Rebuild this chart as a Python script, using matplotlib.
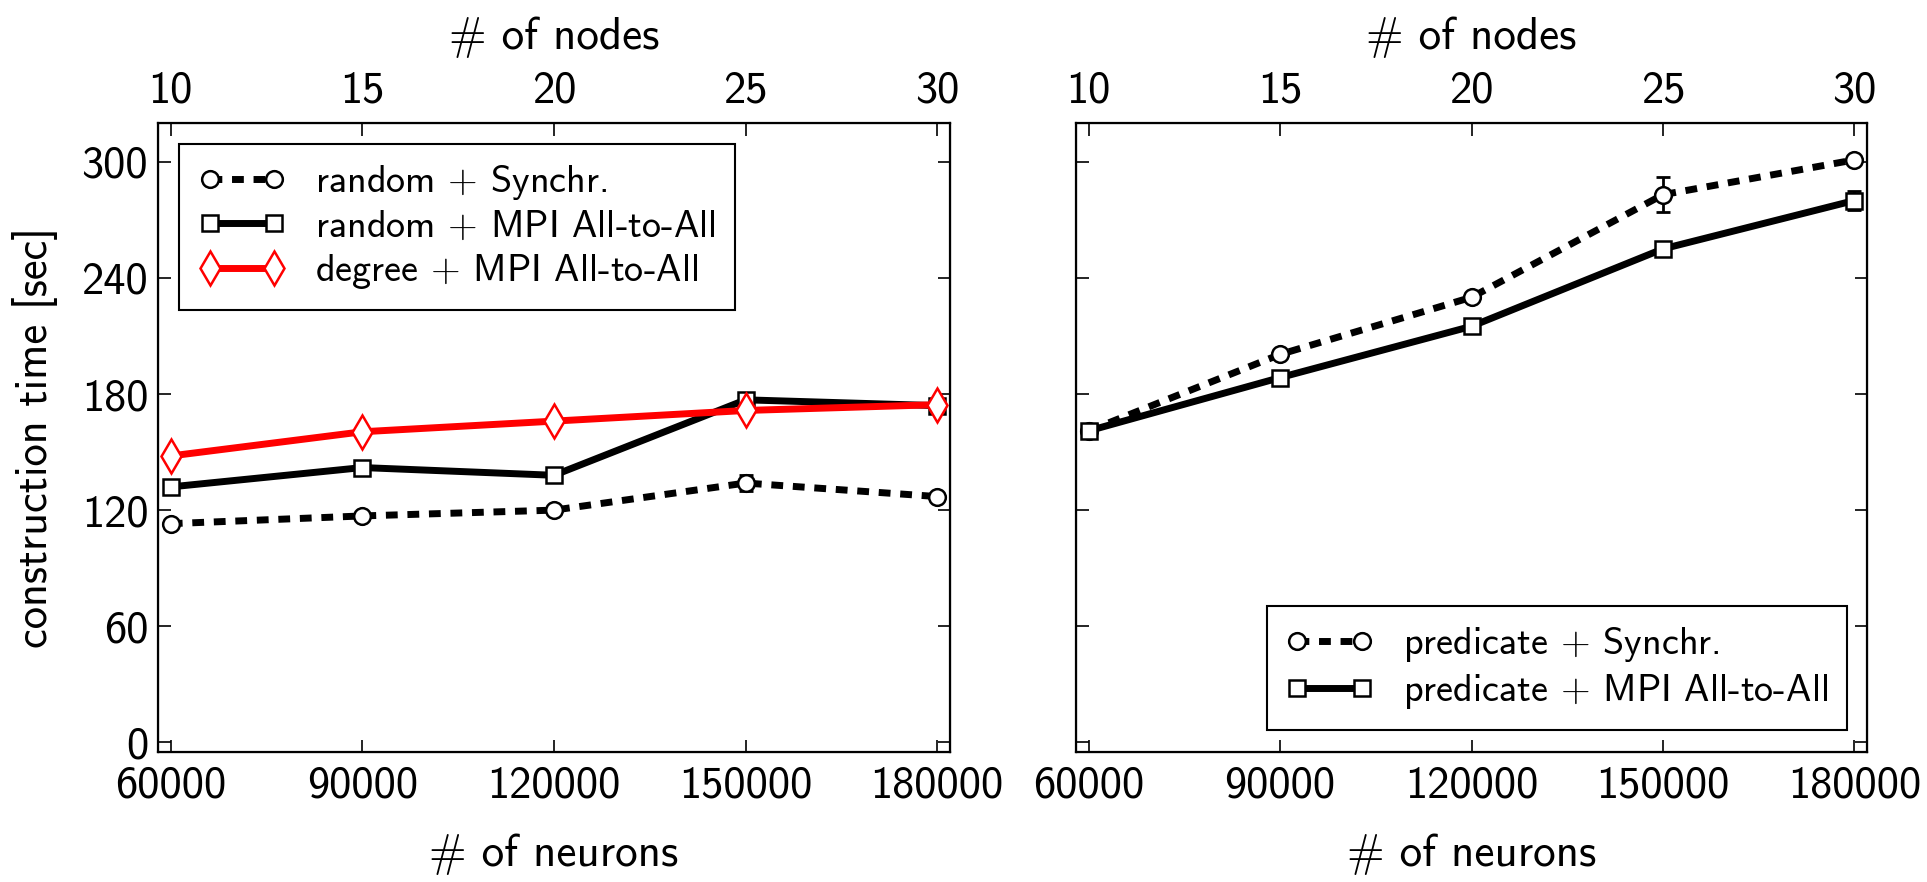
import matplotlib
matplotlib.use("Agg")
import matplotlib.pyplot as plt

plt.rcParams['font.family'] = ['cmss10', 'DejaVu Sans']
plt.rcParams['axes.unicode_minus'] = False
plt.rcParams['mathtext.fontset'] = 'cm'

# ── data ──
neurons = [60000, 90000, 120000, 150000, 180000]
nodes_ticks = [10, 15, 20, 25, 30]
neurons_per_node = 6000
y_ticks = [0, 60, 120, 180, 240, 300]

# left panel
rand_sync = [113, 117, 120, 134, 127]
rand_sync_err = [1, 1, 1, 4, 1]
rand_mpi = [132, 142, 138, 177, 174]
rand_mpi_err = [1, 1, 1, 1, 1]
deg_mpi = [148, 160.5, 166, 171.5, 174.5]
deg_mpi_err = [1, 1, 1, 1, 1]

# right panel
pred_sync = [161, 200.5, 230, 283, 301]
pred_sync_err = [1, 1, 1, 9, 1]
pred_mpi = [161, 188.5, 215, 255, 280]
pred_mpi_err = [1, 1, 3, 1, 5]

LW = 5
MS = 12
DASH = (0, (1.7, 1.4))


def style_axes(ax, show_ylabels):
    ax.set_xlim(58000, 182000)
    ax.set_ylim(-5, 320)
    ax.set_xticks(neurons)
    ax.set_yticks(y_ticks)
    ax.tick_params(axis='both', direction='in', length=9, width=1.2,
                   labelsize=32, top=False, right=True)
    ax.tick_params(axis='x', pad=10)
    ax.tick_params(axis='y', pad=7, labelleft=show_ylabels)
    for sp in ax.spines.values():
        sp.set_linewidth(1.6)
    ax.set_xlabel('# of neurons', fontsize=32.5, labelpad=19)

    top = ax.twiny()
    top.set_xlim(58000 / neurons_per_node, 182000 / neurons_per_node)
    top.set_xticks(nodes_ticks)
    top.tick_params(axis='x', direction='in', length=9, width=1.2,
                    labelsize=32, pad=8.5)
    top.set_xlabel('# of nodes', fontsize=32.5, labelpad=15)
    return top


def series(ax, y, err, marker, color, ls, label, ms=MS):
    # error bars without legend entry, then the labelled line on top
    ax.errorbar(neurons, y, yerr=err, fmt='none', ecolor='black',
                elinewidth=2, capsize=5, capthick=2, zorder=2)
    ax.plot(neurons, y, color=color, lw=LW, ls=ls, marker=marker, ms=ms,
            mfc='white', mec=color, mew=1.8, label=label, zorder=3)


def legend(ax, loc, anchor):
    leg = ax.legend(loc=loc, bbox_to_anchor=anchor, borderaxespad=0,
                    fontsize=27.5, numpoints=2, handlelength=2.3,
                    handletextpad=0.77, borderpad=0.5, labelspacing=0.2,
                    fancybox=False, edgecolor='black', framealpha=1)
    leg.get_frame().set_linewidth(1.5)
    return leg


fig = plt.figure(figsize=(19.27, 8.82), dpi=100)
ax1 = fig.add_axes([0.082, 0.1474, 0.411, 0.713])
ax2 = fig.add_axes([0.5584, 0.1474, 0.4105, 0.713], sharey=ax1)

series(ax1, rand_sync, rand_sync_err, 'o', 'black', DASH, 'random $+$ Synchr.')
series(ax1, rand_mpi, rand_mpi_err, 's', 'black', '-', 'random $+$ MPI All-to-All')
series(ax1, deg_mpi, deg_mpi_err, 'd', 'red', '-', 'degree $+$ MPI All-to-All', ms=17)
ax1.set_ylabel('construction time [sec]', fontsize=32, labelpad=17)
style_axes(ax1, True)
legend(ax1, 'upper left', (0.0265, 0.967))

series(ax2, pred_sync, pred_sync_err, 'o', 'black', DASH, 'predicate $+$ Synchr.')
series(ax2, pred_mpi, pred_mpi_err, 's', 'black', '-', 'predicate $+$ MPI All-to-All')
style_axes(ax2, False)
legend(ax2, 'lower right', (0.975, 0.035))

fig.savefig('out.png', dpi=100)
